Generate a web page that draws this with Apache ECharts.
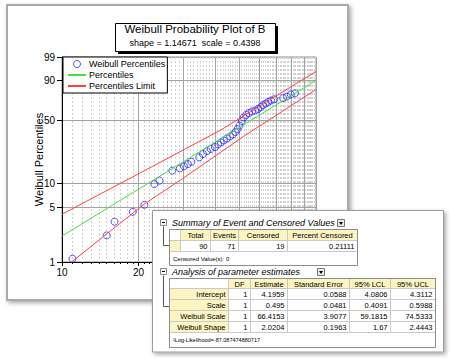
<!DOCTYPE html>
<html><head><meta charset="utf-8">
<script src="https://cdn.jsdelivr.net/npm/echarts@6/dist/echarts.min.js"></script>
<style>html,body{margin:0;padding:0;background:#fff}#c{width:450px;height:358px}</style>
</head><body><div id="c"></div>
<script>
// ---------- data ----------
const failTime   = [10.99, 15.0, 16.1, 19.0, 21.1, 23.1, 24.2, 27.2, 29.1, 30.2, 31.3, 32.3, 34.7, 35.9, 37.2, 38.5, 40.0, 41.2, 42.2, 43.4, 44.6, 45.9, 47.1, 48.2, 49.1, 50.0, 51.0, 51.9, 53.1, 54.5, 56.0, 57.6, 59.2, 60.6, 61.9, 63.4, 64.9, 66.6, 68.5, 74.2, 76.8, 79.6, 82.6];
const percentile = [1.1, 2.2, 3.3, 4.4, 5.4, 9.8, 10.8, 14.3, 15.2, 16.1, 17.1, 18.2, 20.5, 22.4, 24.2, 25.5, 26.8, 28.6, 30.1, 31.6, 33.2, 34.8, 36.5, 38.7, 41.4, 44.8, 49.3, 53.0, 55.7, 57.8, 59.5, 60.6, 62.2, 64.4, 66.6, 68.2, 69.9, 71.5, 72.8, 74.1, 75.7, 77.7, 78.9];
const fitX   = [10, 100];
const fitP   = [2.16, 89.8];
const upperX = [10, 20.4, 42.2, 100];
const upperP = [4.1, 13.5, 40.5, 95.0];
const lowerX = [10.9, 21.1, 29.3, 52.1, 100];
const lowerP = [1.0, 5.53, 11.0, 35.2, 82.5];

const xMajor  = [10, 20, 30, 40, 50, 60, 70, 80, 90, 100];
const xLabels = [10, 20];
const yTicks  = [1, 5, 10, 50, 90, 99];

const titleText = 'Weibull Probability Plot of B';
const subText   = 'shape = 1.14671  scale = 0.4398';
const yName     = 'Weibull Percentiles';
const legendNames = ['Weibull Percentiles', 'Percentiles', 'Percentiles Limit'];

const sumTitle = 'Summary of Event and Censored Values';
const sumHead  = ['Total', 'Events', 'Censored', 'Percent Censored'];
const sumVals  = ['90', '71', '19', '0.21111'];
const sumNote  = 'Censored Value(s): 0';

const parTitle = 'Analysis of parameter estimates';
const parHead  = ['DF', 'Estimate', 'Standard Error', '95% LCL', '95% UCL'];
const parRows  = ['Intercept', 'Scale', 'Weibull Scale', 'Weibull Shape'];
const parDF    = ['1', '1', '1', '1'];
const parEst   = ['4.1959', '0.495', '66.4153', '2.0204'];
const parSE    = ['0.0588', '0.0481', '3.9077', '0.1963'];
const parLCL   = ['4.0806', '0.4091', '59.1815', '1.67'];
const parUCL   = ['4.3112', '0.5988', '74.5333', '2.4443'];
const parNote  = '\u00B9Log-Likelihood=-87.087474880717';

// ---------- scales (log10 for time, Weibull probability for percent) ----------
const tx = v => Math.log10(v);
const ty = p => Math.log(-Math.log(1 - p / 100));
const xMinor = [];
for (let i = 0; i < xMajor.length - 1; i++) for (let k = 1; k < 10; k++) xMinor.push(xMajor[i] + k * (xMajor[i + 1] - xMajor[i]) / 10);

const FONT = '"Liberation Sans", Arial, sans-serif';
const YEL = '#fcf5c2';

// ---------- table overlay (graphic) ----------
const G = [];
function R(x, y, w, h, fill, stroke, z, extra) {
  return Object.assign({ type: 'rect', z: z || 100, shape: { x, y, width: w, height: h }, style: { fill: fill, stroke: stroke || null, lineWidth: 1 } }, extra || {});
}
function T(text, x, y, size, align, extra) {
  return { type: 'text', z: 103, style: Object.assign({ text, x, y, fontSize: size, fontFamily: FONT, fill: '#000', align, verticalAlign: 'middle', textAlign: align, textVerticalAlign: 'middle' }, extra || {}) };
}
function PL(points, stroke) { return { type: 'polyline', z: 101, shape: { points }, style: { stroke, fill: null, lineWidth: 1 } }; }

// chart window
G.push(R(7, 5, 341, 295, '#fff', '#a9a9a9', -10, { style: { fill: '#fff', stroke: '#a9a9a9', lineWidth: 2, shadowBlur: 4, shadowColor: 'rgba(0,0,0,0.35)', shadowOffsetX: 2, shadowOffsetY: 2 } }));
// title box with solid shadow
G.push(R(118, 26, 160, 28, '#000', null, 4));
G.push(R(115.5, 23.5, 160, 28, '#fff', '#000', 5));

// report panel
G.push(R(152.5, 210.5, 291, 141.5, '#fff', '#9c9c9c', 100, { style: { fill: '#fff', stroke: '#9c9c9c', lineWidth: 1, shadowBlur: 4, shadowColor: 'rgba(0,0,0,0.35)', shadowOffsetX: 2, shadowOffsetY: 2 } }));

function section(iconY, title, dropX) {
  G.push(R(160.5, iconY - 3.5, 6, 6, '#fff', '#8a8a8a', 101));
  G.push({ type: 'line', z: 102, shape: { x1: 162, y1: iconY - 0.5, x2: 165, y2: iconY - 0.5 }, style: { stroke: '#000', lineWidth: 1 } });
  G.push(T(title, 172, iconY, 9, 'left', { fontStyle: 'italic' }));
  G.push(R(dropX + 0.5, iconY - 3.5, 7, 7, '#ececec', '#777', 101));
  G.push({ type: 'polygon', z: 102, shape: { points: [[dropX + 2, iconY - 1], [dropX + 6, iconY - 1], [dropX + 4, iconY + 2]] }, style: { fill: '#000' } });
}
section(223, sumTitle, 337);
section(272, parTitle, 317);
G.push(PL([[163.5, 226.5], [163.5, 245.5], [169, 245.5]], '#555'));
G.push(PL([[163.5, 275.5], [163.5, 306.5], [169, 306.5]], '#555'));

// summary table
const c1 = [169.5, 180.5, 210.5, 238.5, 287.5, 357.5];
G.push(R(169.5, 229.5, 188, 36, '#fff', null, 100));
for (let i = 0; i < c1.length - 1; i++) {
  const w = c1[i + 1] - c1[i];
  G.push(R(c1[i], 229.5, w, 11, i === 0 ? '#fff' : YEL, '#c9c9c9', 101));
  G.push(R(c1[i], 240.5, w, 11, i === 0 ? YEL : '#fff', '#c9c9c9', 101));
  if (i > 0) {
    G.push(T(sumHead[i - 1], (c1[i] + c1[i + 1]) / 2, 235.5, 7.5, 'center'));
    G.push(T(sumVals[i - 1], c1[i + 1] - 3, 246.5, 7.5, 'right'));
  }
}
G.push(T(sumNote, 173, 258.5, 6, 'left'));
G.push(R(169.5, 229.5, 188, 36, null, '#8c8c8c', 102));

// parameter table
const c2 = [169.5, 228.5, 250.5, 287.5, 349.5, 390.5, 435.5];
const r2 = [278.5, 288.5, 299.5, 310.5, 321.5, 332.5];
const parCols = [parDF, parEst, parSE, parLCL, parUCL];
G.push(R(169.5, 278.5, 266, 69, '#fff', null, 100));
for (let i = 0; i < c2.length - 1; i++) {
  const w = c2[i + 1] - c2[i];
  for (let r = 0; r < r2.length - 1; r++) {
    let fill = '#fff';
    if (r === 0 && i > 0) fill = YEL;
    if (r > 0 && i === 0) fill = YEL;
    G.push(R(c2[i], r2[r], w, r2[r + 1] - r2[r], fill, '#c9c9c9', 101));
    const cy = (r2[r] + r2[r + 1]) / 2 + 0.5;
    if (r === 0 && i > 0) G.push(T(parHead[i - 1], (c2[i] + c2[i + 1]) / 2, cy, 7.5, 'center'));
    if (r > 0 && i === 0) G.push(T(parRows[r - 1], c2[1] - 3, cy, 7.5, 'right'));
    if (r > 0 && i > 0) G.push(T(parCols[i - 1][r - 1], c2[i + 1] - 3, cy, 7.5, 'right'));
  }
}
G.push(T(parNote, 173, 339.5, 5.5, 'left'));
G.push(R(169.5, 278.5, 266, 69, null, '#8c8c8c', 102));

// ---------- chart ----------
const chart = echarts.init(document.getElementById('c'), null, { renderer: 'svg' });
const pairs = (xs, ps) => xs.map((x, i) => [tx(x), ty(ps[i])]);
const BLUE = '#2a2aff', GREEN = '#3ce43c', RED = '#ff4040';
chart.setOption({
  animation: false,
  backgroundColor: '#fff',
  textStyle: { fontFamily: FONT },
  title: {
    text: titleText, subtext: subText, left: 195, top: 23, textAlign: 'center', padding: 0, itemGap: 3, z: 6,
    textStyle: { fontSize: 11.5, fontWeight: 'normal', color: '#000', fontFamily: FONT },
    subtextStyle: { fontSize: 9, color: '#000', fontFamily: FONT }
  },
  legend: {
    data: [
      { name: legendNames[0], itemStyle: { borderWidth: 1, borderColor: BLUE, color: 'rgba(255,255,255,0)' } },
      { name: legendNames[1], itemStyle: { opacity: 0 } },
      { name: legendNames[2], itemStyle: { opacity: 0 } }
    ],
    left: 63, top: 57, orient: 'vertical', backgroundColor: '#fff', borderColor: '#000', borderWidth: 1,
    borderRadius: 0, padding: [2, 2, 2, 4], itemGap: 1, itemWidth: 18, itemHeight: 7, selectedMode: false,
    textStyle: { fontSize: 9, color: '#000', fontFamily: FONT, lineHeight: 10, padding: [0, 0, 0, -2] }
  },
  grid: { left: 62, right: 134, top: 57, bottom: 96, show: true, backgroundColor: '#fff', borderColor: '#8f8f8f', borderWidth: 1, containLabel: false, outerBoundsMode: 'none' },
  xAxis: [{
    type: 'value', min: 1, max: 2, position: 'bottom',
    axisLine: { show: true, onZero: false, lineStyle: { color: '#000', width: 1 } },
    axisTick: { show: true, length: 4, customValues: xMajor.map(tx), lineStyle: { color: '#000' } },
    axisLabel: { customValues: xLabels.map(tx), formatter: v => String(Math.round(Math.pow(10, v))), fontSize: 10, color: '#000', margin: 5, fontFamily: FONT },
    splitLine: { show: true, lineStyle: { color: '#a3a3a3', width: 1 } }
  }, {
    type: 'value', min: 1, max: 2, position: 'bottom',
    axisLine: { show: false, onZero: false },
    axisTick: { show: true, length: 2, customValues: xMinor.map(tx), lineStyle: { color: '#000' } },
    axisLabel: { show: false },
    splitLine: { show: true, lineStyle: { color: '#d2d2d2', width: 1, type: [2, 2] } }
  }],
  yAxis: {
    type: 'value', min: ty(yTicks[0]), max: ty(yTicks[yTicks.length - 1]),
    name: yName, nameLocation: 'middle', nameGap: 18, nameRotate: 90, nameMoveOverlap: false,
    nameTextStyle: { fontSize: 11, color: '#000', fontFamily: FONT },
    axisLine: { show: true, onZero: false, lineStyle: { color: '#000', width: 1 } },
    axisTick: { show: true, length: 5, customValues: yTicks.map(ty), lineStyle: { color: '#000' } },
    axisLabel: { customValues: yTicks.map(ty), formatter: v => String(Math.round(100 * (1 - Math.exp(-Math.exp(v))))), fontSize: 10, color: '#000', margin: 7, fontFamily: FONT },
    splitLine: { show: true, lineStyle: { color: '#a3a3a3', width: 1 } }
  },
  series: [
    { name: legendNames[0], type: 'scatter', symbol: 'circle', symbolSize: 7, z: 2,
      itemStyle: { color: 'rgba(255,255,255,0)', borderColor: BLUE, borderWidth: 1 }, data: pairs(failTime, percentile) },
    { name: legendNames[1], type: 'line', symbol: 'none', z: 3, lineStyle: { color: GREEN, width: 1 }, itemStyle: { color: GREEN }, data: pairs(fitX, fitP) },
    { name: legendNames[2], type: 'line', symbol: 'none', z: 3, lineStyle: { color: RED, width: 1 }, itemStyle: { color: RED }, data: pairs(upperX, upperP) },
    { name: legendNames[2], type: 'line', symbol: 'none', z: 3, lineStyle: { color: RED, width: 1 }, itemStyle: { color: RED }, data: pairs(lowerX, lowerP) }
  ],
  graphic: { elements: G }
});
</script></body></html>
